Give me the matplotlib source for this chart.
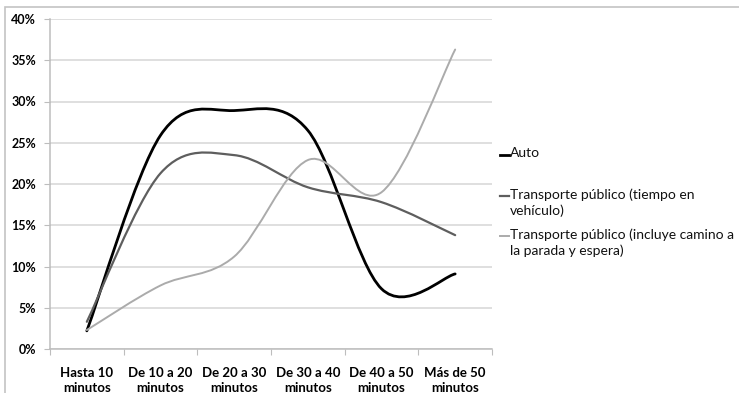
import matplotlib
matplotlib.use("Agg")
import matplotlib.pyplot as plt
import numpy as np
from matplotlib.path import Path
from matplotlib.patches import PathPatch, Rectangle
from matplotlib.lines import Line2D

plt.rcParams['font.family'] = ['Lato', 'DejaVu Sans']

categorias = ["Hasta 10\nminutos", "De 10 a 20\nminutos", "De 20 a 30\nminutos",
              "De 30 a 40\nminutos", "De 40 a 50\nminutos", "Más de 50\nminutos"]
auto = [2.2, 25.9, 28.9, 26.5, 7.3, 9.1]
tp_vehiculo = [3.3, 21.3, 23.5, 19.6, 17.8, 13.8]
tp_total = [2.3, 7.7, 11.2, 22.9, 19.0, 36.3]

series = [
    ("Auto", auto, "#000000", 2.0),
    ("Transporte público (tiempo en\nvehículo)", tp_vehiculo, "#5e5e5e", 1.6),
    ("Transporte público (incluye camino a\nla parada y espera)", tp_total, "#ababab", 1.4),
]


def curva_suave(xs, ys):
    # bezier cúbico tipo "línea suavizada" (Catmull-Rom)
    pts = np.column_stack([xs, ys]).astype(float)
    ext = np.vstack([pts[0], pts, pts[-1]])
    verts = [tuple(pts[0])]
    codes = [Path.MOVETO]
    for i in range(len(pts) - 1):
        p0, p1, p2, p3 = ext[i], ext[i + 1], ext[i + 2], ext[i + 3]
        c1 = p1 + (p2 - p0) / 6
        c2 = p2 - (p3 - p1) / 6
        verts += [tuple(c1), tuple(c2), tuple(p2)]
        codes += [Path.CURVE4] * 3
    return Path(verts, codes)


fig = plt.figure(figsize=(7.39, 3.93), dpi=100)
W, H = 739, 393
ax = fig.add_axes([50 / W, 1 - 349 / H, 442 / W, 330 / H])

# marco exterior del gráfico
fig.patches.append(Rectangle((5 / W, -0.1), 1.2, 1 - 7 / H + 0.1, transform=fig.transFigure,
                             fill=False, edgecolor="#c4c4c4", lw=1.2))

x = np.arange(len(categorias))
for nombre, vals, color, lw in series:
    ax.add_patch(PathPatch(curva_suave(x, vals), fill=False, edgecolor=color, lw=lw,
                           capstyle="round", joinstyle="round", zorder=3))

ax.set_xlim(-0.5, len(categorias) - 0.5)
ax.set_ylim(0, 40)
ax.set_yticks(np.arange(0, 41, 5))
ax.set_yticklabels([f"{v}%" for v in range(0, 41, 5)], fontweight="bold", fontsize=9)
ax.yaxis.grid(True, color="#d6d6d6", lw=1.1)
ax.set_axisbelow(True)

ax.set_xticks(np.arange(-0.5, len(categorias) + 0.5, 1))
ax.set_xticklabels([])
ax.set_xticks(x, minor=True)
ax.set_xticklabels(categorias, minor=True, fontweight="bold", fontsize=9.5, linespacing=1.3)
ax.tick_params(axis="x", which="minor", length=0, pad=13)
ax.tick_params(axis="x", which="major", length=4, color="#bdbdbd", direction="out")
ax.tick_params(axis="y", length=4, color="#bdbdbd", pad=6)

for lado in ["top", "right"]:
    ax.spines[lado].set_visible(False)
for lado in ["left", "bottom"]:
    ax.spines[lado].set_color("#bdbdbd")
    ax.spines[lado].set_linewidth(1.1)

# leyenda a la derecha
pos_leyenda = [155, 196, 236]
for (nombre, vals, color, lw), yp in zip(series, pos_leyenda):
    fig.add_artist(Line2D([500 / W, 509 / W], [1 - yp / H] * 2, color=color, lw=lw,
                          transform=fig.transFigure))
    fig.text(510 / W, 1 - (yp - 8) / H, nombre, fontsize=10, va="top", ha="left",
             linespacing=1.35, color="#111111")

fig.savefig("out.png", dpi=100)
